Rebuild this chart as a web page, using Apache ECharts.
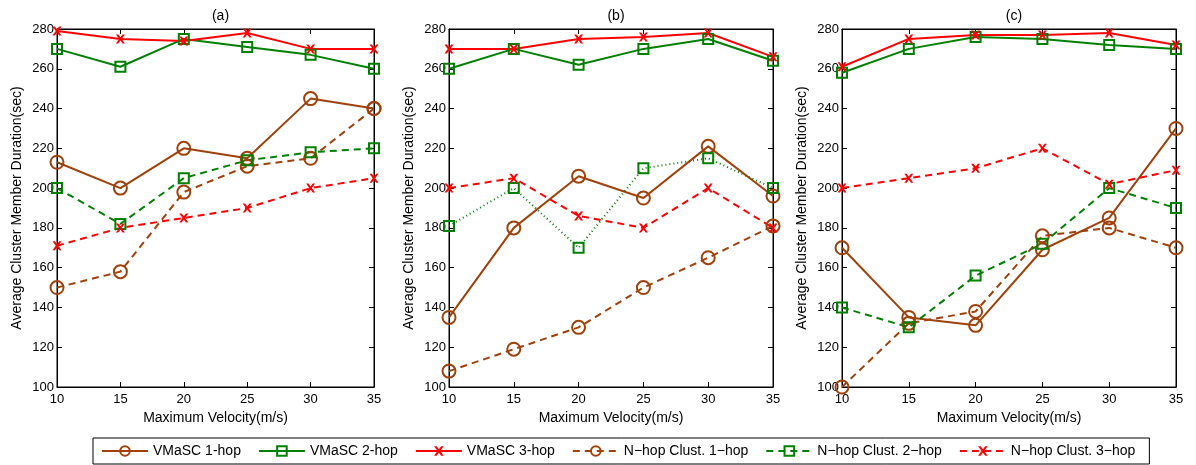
<!DOCTYPE html>
<html><head><meta charset="utf-8">
<script src="https://cdn.jsdelivr.net/npm/echarts@6/dist/echarts.min.js"></script>
<style>html,body{margin:0;padding:0;background:#fff}#c{width:1196px;height:465px}</style>
</head><body><div id="c"></div>
<script>
const velocities = [10, 15, 20, 25, 30, 35];
const yTicks = [100, 120, 140, 160, 180, 200, 220, 240, 260, 280];
const panelTitles = ['(a)', '(b)', '(c)'];
const seriesNames = ['VMaSC 1-hop', 'VMaSC 2-hop', 'VMaSC 3-hop', 'N\u2212hop Clust. 1\u2212hop', 'N\u2212hop Clust. 2\u2212hop', 'N\u2212hop Clust. 3\u2212hop'];

// Panel (a)
const a_vmasc1 = [213, 200, 220, 215, 245, 240];
const a_vmasc2 = [270, 261, 275, 271, 267, 260];
const a_vmasc3 = [279, 275, 274, 278, 270, 270];
const a_nhop1 = [150, 158, 198, 211, 215, 240];
const a_nhop2 = [200, 182, 205, 214, 218, 220];
const a_nhop3 = [171, 180, 185, 190, 200, 205];
// Panel (b)
const b_vmasc1 = [135, 180, 206, 195, 221, 196];
const b_vmasc2 = [260, 270, 262, 270, 275, 264];
const b_vmasc3 = [270, 270, 275, 276, 278, 266];
const b_nhop1 = [108, 119, 130, 150, 165, 181];
const b_nhop2 = [181, 200, 170, 210, 215, 200];
const b_nhop3 = [200, 205, 186, 180, 200, 180];
// Panel (c)
const c_vmasc1 = [170, 135, 131, 169, 185, 230];
const c_vmasc2 = [258, 270, 276, 275, 272, 270];
const c_vmasc3 = [261, 275, 277, 277, 278, 272];
const c_nhop1 = [100, 132, 138, 176, 180, 170];
const c_nhop2 = [140, 130, 156, 172, 200, 190];
const c_nhop3 = [200, 205, 210, 220, 202, 209];

const panels = [
  [a_vmasc1, a_vmasc2, a_vmasc3, a_nhop1, a_nhop2, a_nhop3],
  [b_vmasc1, b_vmasc2, b_vmasc3, b_nhop1, b_nhop2, b_nhop3],
  [c_vmasc1, c_vmasc2, c_vmasc3, c_nhop1, c_nhop2, c_nhop3]
];

const BROWN = '#a0400a', GREEN = '#008000', RED = '#ff0000';
const XPATH = 'path://M0,0 L2.6,0 L5,3.2 L7.4,0 L10,0 L6.4,5 L10,10 L7.4,10 L5,6.8 L2.6,10 L0,10 L3.6,5 Z';
const styles = [
  {color: BROWN, sym: 'circle', size: 13, type: 'solid'},
  {color: GREEN, sym: 'rect', size: 10, type: 'solid'},
  {color: RED, sym: XPATH, size: 9, type: 'solid'},
  {color: BROWN, sym: 'circle', size: 13, type: [7, 5]},
  {color: GREEN, sym: 'rect', size: 10, type: [7, 5]},
  {color: RED, sym: XPATH, size: 9, type: [7, 5]}
];
// panel (b) N-hop 2-hop is dotted
function lineType(p, i) { return (p === 1 && i === 4) ? [1, 3] : styles[i].type; }

const grids = [
  {left: 57, top: 29, width: 317, height: 358},
  {left: 449, top: 29, width: 324, height: 358},
  {left: 842, top: 29, width: 334, height: 358}
];
const FONT = 'Liberation Sans';

const xAxes = [], yAxes = [], series = [], titles = [];
grids.forEach((g, p) => {
  g.show = true; g.borderColor = '#000'; g.borderWidth = 1; g.containLabel = false;
  xAxes.push({
    type: 'value', gridIndex: p, min: 10, max: 35, interval: 5,
    name: 'Maximum Velocity(m/s)', nameLocation: 'middle', nameGap: 23,
    nameTextStyle: {fontFamily: FONT, fontSize: 14, color: '#000'},
    axisLine: {onZero: false, lineStyle: {color: '#000'}},
    axisTick: {inside: true, length: 5, lineStyle: {color: '#000'}},
    axisLabel: {fontFamily: FONT, fontSize: 13, color: '#000', margin: 6},
    splitLine: {show: false}
  });
  xAxes.push({
    type: 'value', gridIndex: p, min: 10, max: 35, interval: 5, position: 'top',
    axisLine: {onZero: false, lineStyle: {color: '#000'}},
    axisTick: {inside: true, length: 5, lineStyle: {color: '#000'}},
    axisLabel: {show: false}, splitLine: {show: false}
  });
  yAxes.push({
    type: 'value', gridIndex: p, min: 100, max: 280, interval: 20,
    name: 'Average Cluster Member Duration(sec)', nameLocation: 'middle', nameGap: 33,
    nameTextStyle: {fontFamily: FONT, fontSize: 14, color: '#000'},
    axisLine: {onZero: false, lineStyle: {color: '#000'}},
    axisTick: {inside: true, length: 5, lineStyle: {color: '#000'}},
    axisLabel: {fontFamily: FONT, fontSize: 13, color: '#000', margin: 3,
      formatter: v => yTicks.includes(v) ? String(v) : ''},
    splitLine: {show: false}
  });
  yAxes.push({
    type: 'value', gridIndex: p, min: 100, max: 280, interval: 20, position: 'right',
    axisLine: {onZero: false, lineStyle: {color: '#000'}},
    axisTick: {inside: true, length: 5, lineStyle: {color: '#000'}},
    axisLabel: {show: false}, splitLine: {show: false}
  });
  titles.push({
    text: panelTitles[p], left: g.left + g.width / 2, top: 4, textAlign: 'center',
    textStyle: {fontFamily: FONT, fontSize: 14, fontWeight: 'normal', color: '#000'}
  });
  panels[p].forEach((vals, i) => {
    const st = styles[i];
    const isX = st.sym === XPATH;
    series.push({
      name: seriesNames[i], type: 'line', xAxisIndex: p * 2, yAxisIndex: p * 2,
      data: velocities.map((v, k) => [v, vals[k]]),
      symbol: st.sym, symbolSize: st.size, showAllSymbol: true,
      lineStyle: {color: st.color, width: 2, type: lineType(p, i)},
      itemStyle: isX ? {color: st.color, borderWidth: 0}
                     : {color: 'rgba(255,255,255,0)', borderColor: st.color, borderWidth: 2},
      color: st.color,
      emphasis: {disabled: true}, animation: false, z: 3
    });
  });
});

const chart = echarts.init(document.getElementById('c'));
chart.setOption({
  backgroundColor: '#fff',
  animation: false,
  title: titles,
  grid: grids,
  xAxis: xAxes,
  yAxis: yAxes,
  legend: {
    data: seriesNames, left: 93, top: 438, width: 1100,
    itemWidth: 46, itemHeight: 12, itemGap: 17,
    padding: [6, 14, 6, 8],
    borderColor: '#000', borderWidth: 1, borderRadius: 0,
    textStyle: {fontFamily: FONT, fontSize: 14, color: '#000'}
  },
  series: series
});
</script></body></html>
